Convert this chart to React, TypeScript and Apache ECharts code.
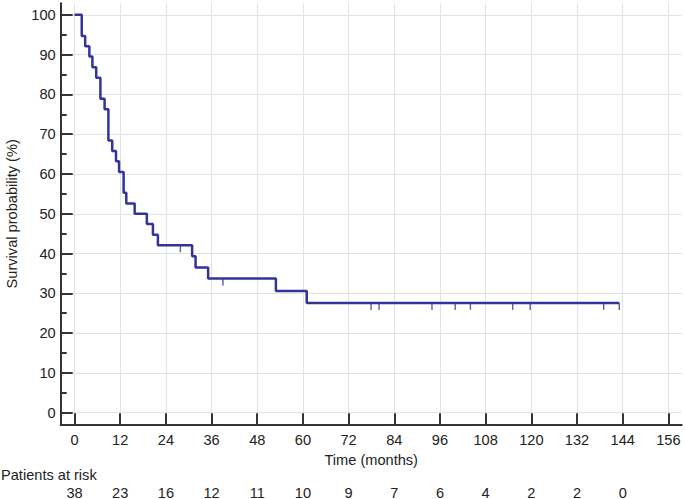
import React, { useEffect, useRef } from "react";
import * as echarts from "echarts";

const timeTicks = [0, 12, 24, 36, 48, 60, 72, 84, 96, 108, 120, 132, 144, 156];
const riskTicks = [0, 12, 24, 36, 48, 60, 72, 84, 96, 108, 120, 132, 144];
const patientsAtRisk = [38, 23, 16, 12, 11, 10, 9, 7, 6, 4, 2, 2, 0];
const yMajor = [0, 10, 20, 30, 40, 50, 60, 70, 80, 90, 100];
const yMinor = [5, 15, 25, 35, 45, 55, 65, 75, 85, 95];

// step times (months) and survival (%) after each step
const stepTimes = [0, 1.9, 2.8, 3.9, 4.7, 5.7, 6.8, 7.9, 8.9, 9.9, 10.9, 11.7, 12.9, 13.6, 15.8, 19.0, 20.6, 21.9, 30.9, 31.8, 35.1, 52.9, 61.0, 143.1];
const stepSurvival = [100, 94.7, 92.1, 89.5, 86.8, 84.2, 78.9, 76.3, 68.4, 65.8, 63.2, 60.5, 55.3, 52.6, 50.0, 47.4, 44.7, 42.1, 39.3, 36.5, 33.7, 30.6, 27.6, 27.6];

// censored observations
const censorTimes = [27.8, 39.0, 77.9, 80.0, 93.9, 100.0, 104.0, 115.1, 119.7, 139.0, 143.1];
const censorSurvival = [42.1, 33.7, 27.6, 27.6, 27.6, 27.6, 27.6, 27.6, 27.6, 27.6, 27.6];

const FONT = "Liberation Sans, Arial, sans-serif";
const FS = 14.6;
const LINE = "#333399";
const AXIS = "#333333";
const TEXT = "#222222";

export default function App() {
  const ref = useRef<HTMLDivElement>(null);
  useEffect(() => {
    if (!ref.current) return;
    const chart = echarts.init(ref.current, null, { renderer: "svg" });
    const xMin = -3.63;
    const xMax = 159.5;
    const yMin = -2.92;
    const yMax = 102.9;
    chart.setOption({
      animation: false,
      textStyle: { fontFamily: FONT },
      grid: { left: 60.7, right: 3.3, top: 3.3, bottom: 74.7, containLabel: false, outerBoundsMode: "none" },
      xAxis: [
        {
          type: "value",
          min: xMin,
          max: xMax,
          name: "Time (months)",
          nameLocation: "middle",
          nameGap: 27,
          nameTextStyle: { fontSize: FS, color: TEXT, fontFamily: FONT },
          axisLine: { show: true, onZero: false, lineStyle: { color: AXIS, width: 2 } },
          axisTick: { show: true, inside: true, length: 11, customValues: timeTicks, lineStyle: { color: AXIS, width: 2 } },
          axisLabel: { show: true, customValues: timeTicks, fontSize: FS, color: TEXT, margin: 8, fontFamily: FONT },
          splitLine: { show: true, lineStyle: { color: "#e2e2e2", width: 1 } },
        },
        {
          type: "value",
          min: xMin,
          max: xMax,
          position: "bottom",
          offset: 52.7,
          axisLine: { show: false, onZero: false },
          axisTick: { show: false, customValues: riskTicks },
          axisLabel: {
            show: true,
            customValues: riskTicks,
            fontSize: FS,
            color: TEXT,
            margin: 8,
            fontFamily: FONT,
            formatter: (v: number) => {
              const i = riskTicks.indexOf(Math.round(v));
              return i >= 0 ? String(patientsAtRisk[i]) : "";
            },
          },
          splitLine: { show: false },
        },
      ],
      yAxis: [
        {
          type: "value",
          min: yMin,
          max: yMax,
          name: "Survival probability (%)",
          nameLocation: "middle",
          nameGap: 41,
          nameRotate: 90,
          nameTextStyle: { fontSize: FS, color: TEXT, fontFamily: FONT },
          axisLine: { show: true, onZero: false, lineStyle: { color: AXIS, width: 2 } },
          axisTick: { show: true, inside: true, length: 12, customValues: yMajor, lineStyle: { color: AXIS, width: 2 } },
          axisLabel: { show: true, customValues: yMajor, fontSize: FS, color: TEXT, margin: 5, fontFamily: FONT },
          splitLine: { show: true, lineStyle: { color: "#e2e2e2", width: 1 } },
        },
        {
          type: "value",
          min: yMin,
          max: yMax,
          position: "left",
          axisLine: { show: false, onZero: false },
          axisTick: { show: true, inside: true, length: 6, customValues: yMinor, lineStyle: { color: AXIS, width: 2 } },
          axisLabel: { show: false },
          splitLine: { show: false },
        },
      ],
      graphic: [
        {
          type: "text",
          left: 1,
          top: 467,
          style: { text: "Patients at risk", fontSize: FS, fill: TEXT, fontFamily: FONT },
        },
      ],
      series: [
        {
          type: "line",
          step: "end",
          xAxisIndex: 0,
          yAxisIndex: 0,
          data: stepTimes.map((t, i) => [t, stepSurvival[i]]),
          showSymbol: false,
          lineStyle: { color: LINE, width: 2.5 },
          z: 5,
        },
        {
          type: "scatter",
          xAxisIndex: 0,
          yAxisIndex: 0,
          data: censorTimes.map((t, i) => [t, censorSurvival[i]]),
          symbol: "rect",
          symbolSize: [1.4, 7],
          symbolOffset: [0, 3.5],
          itemStyle: { color: LINE },
          z: 4,
        },
      ],
    });
    return () => chart.dispose();
  }, []);
  return <div ref={ref} style={{ width: 685, height: 499, position: "absolute", left: 0, top: 0 }} />;
}
